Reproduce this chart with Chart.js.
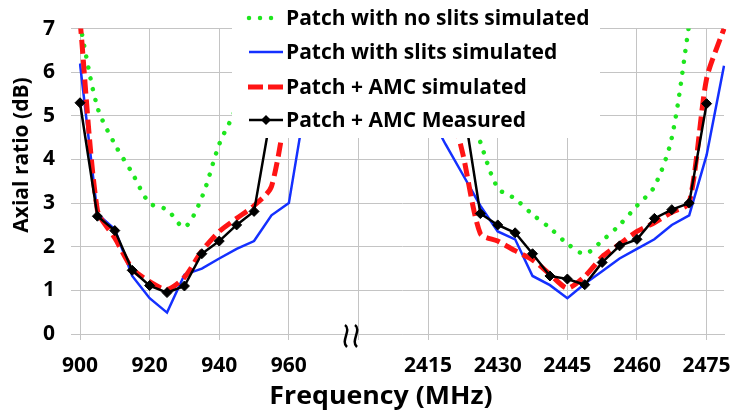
<!DOCTYPE html>
<html>
<head>
<meta charset="utf-8">
<script src="https://cdn.jsdelivr.net/npm/chart.js@4.4.1/dist/chart.umd.min.js"></script>
<style>
  html, body { margin: 0; padding: 0; background: #fff; }
</style>
</head>
<body>
<canvas id="arChart" width="738" height="414"></canvas>
<script>
// frequency categories (MHz): lower band 5 MHz steps, upper band 3.75 MHz steps
const lowBand = [900, 905, 910, 915, 920, 925, 930, 935, 940, 945,
                 950, 955, 960, 965, 970, 975, 980, 985, 990, 995];
const highBand = [2415, 2418.75, 2422.5, 2426.25, 2430, 2433.75, 2437.5, 2441.25, 2445,
                  2448.75, 2452.5, 2456.25, 2460, 2463.75, 2467.5, 2471.25, 2475, 2478.75];
// one label every 4th category ('' = the axis break)
const tickLabels = ['900', '920', '940', '960', '', '2415', '2430', '2445', '2460', '2475'];

// axial ratio (dB)
const noSlitsLow  = [7.1, 5.2, 4.35, 3.69, 3.0, 2.85, 2.45, 3.13, 4.35, 5.25, 7.5, null, null, null, null, null, null, null, null, null];
const noSlitsHigh = [null, null, 5.6, 4.4, 3.35, 3.1, 2.74, 2.43, 2.07, 1.84, 2.14, 2.5, 2.94, 3.38, 4.5, 7.1, null, null];

const slitsLow  = [6.2, 2.75, 2.4, 1.33, 0.82, 0.49, 1.36, 1.5, 1.73, 1.95, 2.13, 2.72, 3.0, 5.4, 8.0, null, null, null, null, null];
const slitsHigh = [5.1, 4.35, 3.65, 2.94, 2.35, 2.17, 1.33, 1.12, 0.82, 1.15, 1.44, 1.73, 1.95, 2.17, 2.5, 2.72, 4.1, 6.15];

const amcLow  = [7.2, 2.84, 2.2, 1.5, 1.2, 1.02, 1.3, 1.9, 2.35, 2.65, 2.94, 3.38, 5.6, 8.5, null, null, null, null, null, null];
const amcHigh = [null, 5.7, 4.12, 2.3, 2.13, 1.91, 1.7, 1.37, 1.05, 1.32, 1.77, 2.06, 2.35, 2.55, 2.79, 3.01, 5.85, 7.0];

const measuredLow  = [5.3, 2.7, 2.37, 1.46, 1.11, 0.95, 1.1, 1.84, 2.13, 2.5, 2.81, 5.1, null, null, null, null, null, null, null, null];
const measuredHigh = [null, null, 5.3, 2.76, 2.5, 2.32, 1.84, 1.33, 1.26, 1.13, 1.64, 2.02, 2.17, 2.65, 2.85, 3.0, 5.28, null];

const seriesNames = ['Patch with no slits simulated', 'Patch with slits simulated',
                     'Patch + AMC simulated', 'Patch + AMC Measured'];

const GREEN = '#1ee61e', BLUE = '#1430ff', RED = '#ff1414', GRID = '#c4c4c4';
const FONT = '"Open Sans"';

Chart.defaults.font.family = FONT;

// white legend box on top of the lines, titles and the axis-break mark
const overlay = {
  id: 'overlay',
  afterDatasetsDraw(chart) {
    const c = chart.ctx;
    c.save();
    c.fillStyle = '#fff';
    c.fillRect(232, 0, 368, 138);

    const rows = [18, 52, 87, 120];
    // green dots
    c.strokeStyle = GREEN; c.lineWidth = 4.5; c.lineCap = 'round';
    c.setLineDash([0.01, 11]);
    c.beginPath(); c.moveTo(249, rows[0]); c.lineTo(273, rows[0]); c.stroke();
    // blue
    c.setLineDash([]); c.lineCap = 'butt';
    c.strokeStyle = BLUE; c.lineWidth = 2.5;
    c.beginPath(); c.moveTo(249, rows[1]); c.lineTo(283, rows[1]); c.stroke();
    // red dashes
    c.strokeStyle = RED; c.lineWidth = 5; c.setLineDash([15, 5]);
    c.beginPath(); c.moveTo(248, rows[2]); c.lineTo(283, rows[2]); c.stroke();
    // black with diamond
    c.setLineDash([]);
    c.strokeStyle = '#000'; c.lineWidth = 2.5;
    c.beginPath(); c.moveTo(249, rows[3]); c.lineTo(283, rows[3]); c.stroke();
    c.fillStyle = '#000';
    c.beginPath();
    c.moveTo(266, rows[3] - 5); c.lineTo(271, rows[3]); c.lineTo(266, rows[3] + 5); c.lineTo(261, rows[3]);
    c.closePath(); c.fill();

    c.font = 'bold 21px ' + FONT;
    c.textBaseline = 'middle';
    c.textAlign = 'left';
    seriesNames.forEach((name, i) => c.fillText(name, 286, rows[i] + 1));
    c.restore();
  },
  afterDraw(chart) {
    const c = chart.ctx;
    c.save();
    c.fillStyle = '#000';
    c.textAlign = 'center';
    c.textBaseline = 'middle';
    c.font = 'bold 25px ' + FONT;
    c.save();
    c.translate(381, 397);
    c.scale(1.07, 1);
    c.fillText('Frequency (MHz)', 0, 0);
    c.restore();

    c.font = 'bold 21px ' + FONT;
    c.translate(22, 155);
    c.rotate(-Math.PI / 2);
    c.fillText('Axial ratio (dB)', 0, 0);
    c.restore();

    // axis break mark
    c.save();
    c.strokeStyle = '#000';
    c.lineWidth = 2.5;
    [346, 356].forEach(x => {
      c.beginPath();
      c.moveTo(x - 1, 325);
      c.bezierCurveTo(x + 6, 330, x - 6, 341, x + 1, 347);
      c.stroke();
    });
    c.restore();
  }
};

const ctx = document.getElementById('arChart').getContext('2d');

const arChart = new Chart(ctx, {
  type: 'line',
  data: {
    labels: lowBand.concat(highBand).map(String),
    datasets: [
      {
        label: seriesNames[0],
        data: noSlitsLow.concat(noSlitsHigh),
        borderColor: GREEN,
        borderWidth: 4.5,
        borderDash: [0.01, 11],
        borderCapStyle: 'round',
        tension: 0.3,
        pointRadius: 0,
        order: 4
      },
      {
        label: seriesNames[1],
        data: slitsLow.concat(slitsHigh),
        borderColor: BLUE,
        borderWidth: 2.5,
        tension: 0,
        pointRadius: 0,
        order: 3
      },
      {
        label: seriesNames[2],
        data: amcLow.concat(amcHigh),
        borderColor: RED,
        borderWidth: 5,
        borderDash: [14, 6],
        tension: 0.25,
        pointRadius: 0,
        order: 2
      },
      {
        label: seriesNames[3],
        data: measuredLow.concat(measuredHigh),
        borderColor: '#000',
        backgroundColor: '#000',
        borderWidth: 2.5,
        tension: 0,
        pointStyle: 'rectRot',
        pointRadius: 5,
        pointBorderWidth: 1,
        order: 1
      }
    ]
  },
  options: {
    responsive: false,
    animation: false,
    devicePixelRatio: 1,
    layout: { padding: { left: 0, right: 14, top: 15, bottom: 0 } },
    scales: {
      x: {
        type: 'category',
        offset: false,
        afterFit: scale => { scale.height = 80; },
        grid: {
          color: c => (c.index % 4 === 0 ? GRID : 'rgba(0,0,0,0)'),
          lineWidth: 1,
          tickLength: 6
        },
        border: { color: GRID },
        ticks: {
          autoSkip: false,
          maxRotation: 0,
          minRotation: 0,
          padding: 13,
          color: '#000',
          font: { size: 21, weight: 'bold' },
          callback: (value, i) => (i % 4 === 0 ? tickLabels[i / 4] : '')
        }
      },
      y: {
        min: 0,
        max: 7,
        afterFit: scale => { scale.width = 80; },
        grid: { color: GRID, lineWidth: 1, tickLength: 9 },
        border: { color: GRID },
        ticks: {
          stepSize: 1,
          padding: 16,
          color: '#000',
          font: { size: 21, weight: 'bold' }
        }
      }
    },
    plugins: {
      legend: { display: false },
      tooltip: { enabled: false }
    }
  },
  plugins: [overlay]
});
</script>
</body>
</html>
